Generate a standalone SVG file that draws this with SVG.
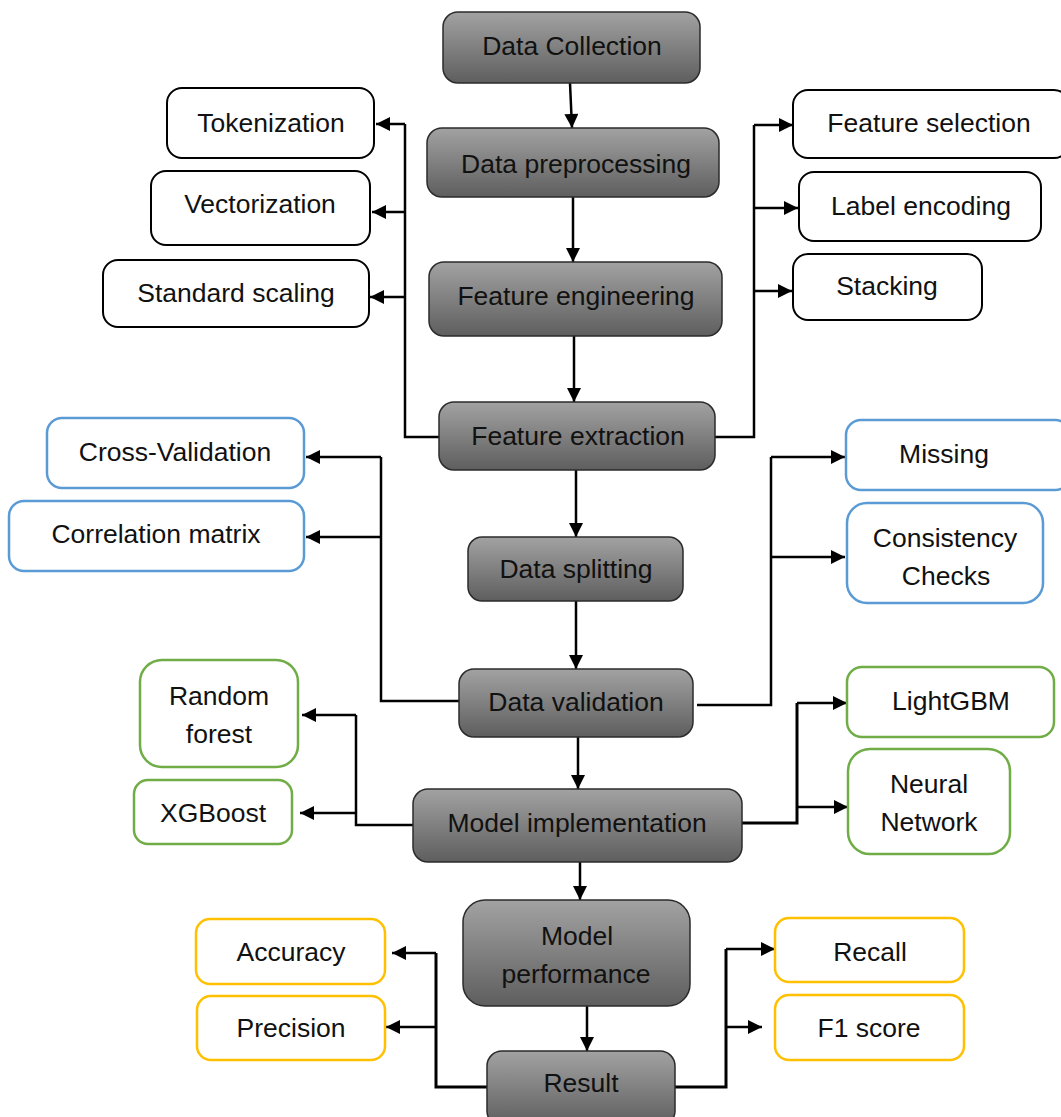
<svg xmlns="http://www.w3.org/2000/svg" width="1061" height="1117" viewBox="0 0 1061 1117">
<defs>
<linearGradient id="g" x1="0" y1="0" x2="0" y2="1">
<stop offset="0" stop-color="#a2a2a2"/>
<stop offset="1" stop-color="#5e5e5e"/>
</linearGradient>
<marker id="ah" viewBox="0 0 10 10" refX="10" refY="5" markerWidth="15" markerHeight="14" markerUnits="userSpaceOnUse" orient="auto">
<path d="M0,0 L10,5 L0,10 Z" fill="#000"/>
</marker>
<style>
.main rect{fill:url(#g);stroke:#2b2b2b;stroke-width:1.5}
.w rect{fill:#fff;stroke:#000;stroke-width:2}
.b rect{fill:#fff;stroke:#5b9bd5;stroke-width:2.5}
.gr rect{fill:#fff;stroke:#70ad47;stroke-width:2.5}
.y rect{fill:#fff;stroke:#ffc000;stroke-width:2.5}
text{font-family:"Liberation Sans",Arial,sans-serif;font-size:26.5px;fill:#111;text-anchor:middle}
#connectors path{fill:none;stroke:#000;stroke-width:2.5}
#connectors .a{marker-end:url(#ah)}
</style>
</defs>
<rect width="1061" height="1117" fill="#fff"/>

<g id="connectors">
<path class="a" d="M570,83 L572,128"/>
<path class="a" d="M573,197 V262"/>
<path class="a" d="M574,336 V402"/>
<path class="a" d="M576,470 V537"/>
<path class="a" d="M576,601 V669"/>
<path class="a" d="M578,737 V789"/>
<path class="a" d="M580,862 V900"/>
<path class="a" d="M587,1006 V1051"/>

<path d="M439,437 H405 V124"/>
<path class="a" d="M405,124 H376"/>
<path class="a" d="M405,212 H372"/>
<path class="a" d="M405,297 H370"/>

<path d="M715,437 H754 V125"/>
<path class="a" d="M754,125 H793"/>
<path class="a" d="M754,208 H798"/>
<path class="a" d="M754,291 H792"/>

<path d="M459,701 H381 V457"/>
<path class="a" d="M381,457 H306"/>
<path class="a" d="M381,537 H306"/>

<path d="M697,705 H771 V457"/>
<path class="a" d="M771,457 H845"/>
<path class="a" d="M771,557 H845"/>

<path d="M413,825 H356 V715"/>
<path class="a" d="M356,715 H302"/>
<path class="a" d="M356,813 H300"/>

<path d="M742,823 H797 V703" style="stroke-width:3"/>
<path class="a" d="M797,703 H847"/>
<path class="a" d="M797,807 H848"/>

<path d="M487,1087 H436 V953" style="stroke-width:3"/>
<path class="a" d="M436,953 H392"/>
<path class="a" d="M436,1027 H386"/>

<path d="M675,1087 H726 V949" style="stroke-width:3"/>
<path class="a" d="M726,949 H775"/>
<path class="a" d="M726,1027 H762"/>
</g>

<g id="data-collection" class="main"><rect x="443" y="12" width="257" height="71" rx="15"/><text x="572" y="55">Data Collection</text></g>
<g id="data-preprocessing" class="main"><rect x="427" y="128" width="292" height="69" rx="15"/><text x="576" y="173">Data preprocessing</text></g>
<g id="feature-engineering" class="main"><rect x="429" y="262" width="293" height="74" rx="15"/><text x="576" y="305">Feature engineering</text></g>
<g id="feature-extraction" class="main"><rect x="439" y="402" width="276" height="68" rx="15"/><text x="578" y="445">Feature extraction</text></g>
<g id="data-splitting" class="main"><rect x="468" y="537" width="215" height="64" rx="14"/><text x="576" y="578">Data splitting</text></g>
<g id="data-validation" class="main"><rect x="459" y="669" width="234" height="68" rx="15"/><text x="576" y="711">Data validation</text></g>
<g id="model-implementation" class="main"><rect x="413" y="789" width="329" height="73" rx="15"/><text x="577" y="832">Model implementation</text></g>
<g id="model-performance" class="main"><rect x="463" y="900" width="227" height="106" rx="22"/><text x="577" y="945">Model</text><text x="576" y="983">performance</text></g>
<g id="result" class="main"><rect x="487" y="1051" width="188" height="75" rx="15"/><text x="581" y="1092">Result</text></g>

<g id="tokenization" class="w"><rect x="167" y="88" width="207" height="70" rx="15"/><text x="271" y="132">Tokenization</text></g>
<g id="vectorization" class="w"><rect x="151" y="171" width="219" height="74" rx="15"/><text x="260" y="213">Vectorization</text></g>
<g id="standard-scaling" class="w"><rect x="103" y="260" width="266" height="67" rx="15"/><text x="236" y="302">Standard scaling</text></g>
<g id="feature-selection" class="w"><rect x="793" y="90" width="276" height="68" rx="15"/><text x="929" y="132">Feature selection</text></g>
<g id="label-encoding" class="w"><rect x="799" y="172" width="242" height="69" rx="15"/><text x="921" y="215">Label encoding</text></g>
<g id="stacking" class="w"><rect x="793" y="254" width="189" height="66" rx="15"/><text x="887" y="295">Stacking</text></g>

<g id="cross-validation" class="b"><rect x="47" y="418" width="257" height="70" rx="15"/><text x="175" y="461">Cross-Validation</text></g>
<g id="correlation-matrix" class="b"><rect x="9" y="501" width="295" height="70" rx="15"/><text x="156" y="543">Correlation matrix</text></g>
<g id="missing" class="b"><rect x="846" y="420" width="224" height="70" rx="15"/><text x="944" y="463">Missing</text></g>
<g id="consistency-checks" class="b"><rect x="847" y="503" width="196" height="100" rx="20"/><text x="945" y="547">Consistency</text><text x="946" y="585">Checks</text></g>

<g id="random-forest" class="gr"><rect x="140" y="660" width="158" height="107" rx="22"/><text x="219" y="705">Random</text><text x="219" y="743">forest</text></g>
<g id="xgboost" class="gr"><rect x="134" y="780" width="158" height="64" rx="14"/><text x="213" y="822">XGBoost</text></g>
<g id="lightgbm" class="gr"><rect x="847" y="667" width="207" height="70" rx="15"/><text x="951" y="710">LightGBM</text></g>
<g id="neural-network" class="gr"><rect x="848" y="749" width="162" height="105" rx="22"/><text x="929" y="793">Neural</text><text x="929" y="831">Network</text></g>

<g id="accuracy" class="y"><rect x="196" y="919" width="189" height="65" rx="14"/><text x="291" y="961">Accuracy</text></g>
<g id="precision" class="y"><rect x="197" y="996" width="188" height="64" rx="14"/><text x="291" y="1037">Precision</text></g>
<g id="recall" class="y"><rect x="775" y="918" width="189" height="64" rx="14"/><text x="870" y="961">Recall</text></g>
<g id="f1-score" class="y"><rect x="775" y="995" width="189" height="65" rx="14"/><text x="869" y="1037">F1 score</text></g>
</svg>
